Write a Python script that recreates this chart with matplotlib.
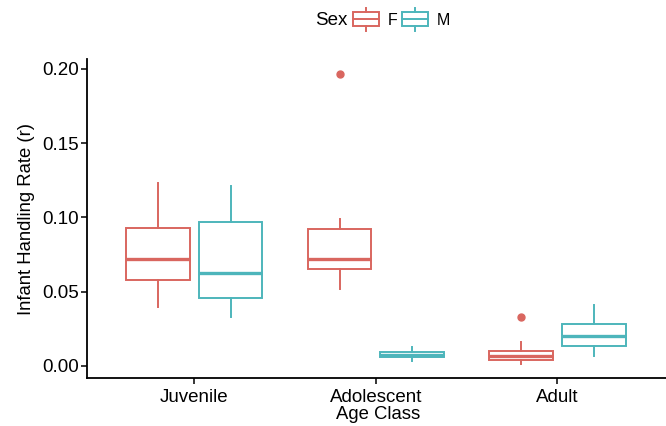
import matplotlib
matplotlib.use("Agg")
import matplotlib.pyplot as plt
from matplotlib.legend_handler import HandlerBase
from matplotlib.patches import Rectangle
from matplotlib.lines import Line2D

plt.rcParams['font.family'] = ['Liberation Sans', 'DejaVu Sans']

# data (box stats per age class and sex)
age_classes = ["Juvenile", "Adolescent", "Adult"]
sexes = ["F", "M"]
colors = {"F": "#D9665F", "M": "#4DB5BB"}

whislo = {"F": [0.0395, 0.0521, 0.0011], "M": [0.0332, 0.0034, 0.0067]}
q1 = {"F": [0.0579, 0.0653, 0.0040], "M": [0.0458, 0.0058, 0.0135]}
med = {"F": [0.0721, 0.0718, 0.0070], "M": [0.0629, 0.0076, 0.0200]}
q3 = {"F": [0.0932, 0.0923, 0.0099], "M": [0.0967, 0.0092, 0.0281]}
whishi = {"F": [0.1230, 0.0988, 0.0162], "M": [0.1212, 0.0128, 0.0413]}
fliers = {"F": [[], [0.1968], [0.0328]], "M": [[], [], []]}

fig = plt.figure(figsize=(6.66, 4.26), dpi=100)
ax = fig.add_axes([0.131, 0.112, 0.875, 0.749])

offsets = {"F": -0.2, "M": 0.2}
for s in sexes:
    stats = []
    for i in range(len(age_classes)):
        stats.append(dict(whislo=whislo[s][i], q1=q1[s][i], med=med[s][i],
                          q3=q3[s][i], whishi=whishi[s][i], fliers=fliers[s][i]))
    pos = [i + 1 + offsets[s] for i in range(len(age_classes))]
    c = colors[s]
    ax.bxp(stats, positions=pos, widths=0.35, showcaps=False, patch_artist=True,
           boxprops=dict(facecolor="white", edgecolor=c, linewidth=1.4),
           medianprops=dict(color=c, linewidth=2.4, solid_capstyle="butt"),
           whiskerprops=dict(color=c, linewidth=1.4),
           flierprops=dict(marker="o", markerfacecolor=c, markeredgecolor=c, markersize=5))

ax.set_xlim(0.41, 3.62)
ax.set_ylim(-0.0083, 0.2065)
ax.set_xticks([1, 2, 3])
ax.set_xticklabels(age_classes)
ax.set_yticks([0.0, 0.05, 0.10, 0.15, 0.20])
ax.set_yticklabels(["0.00", "0.05", "0.10", "0.15", "0.20"])
ax.tick_params(labelsize=13.5, colors="black", length=4, width=1.1, direction="out")
ax.tick_params(axis="x", pad=4)
ax.tick_params(axis="y", pad=2)
for side in ["top", "right"]:
    ax.spines[side].set_visible(False)
for side in ["left", "bottom"]:
    ax.spines[side].set_linewidth(1.3)
ax.set_xlabel("Age Class", fontsize=13.3, labelpad=0)
ax.set_ylabel("Infant Handling Rate (r)", fontsize=13.3, labelpad=5)


class BoxHandler(HandlerBase):
    def create_artists(self, legend, orig, xd, yd, width, height, fontsize, trans):
        c = orig.get_color()
        h = height * 2.0
        y0 = yd + height / 2 - h / 2
        bw = width * 0.92
        x0 = xd + (width - bw) / 2
        arts = [
            Rectangle((x0, y0 + h * 0.19), bw, h * 0.62, facecolor="white", edgecolor=c, lw=1.4, transform=trans),
            Line2D([x0, x0 + bw], [y0 + h / 2] * 2, color=c, lw=1.4, transform=trans),
            Line2D([xd + width / 2] * 2, [y0, y0 + h * 0.19], color=c, lw=1.4, transform=trans),
            Line2D([xd + width / 2] * 2, [y0 + h * 0.81, y0 + h], color=c, lw=1.4, transform=trans),
        ]
        return arts


handles = [Line2D([], [], color=colors[s]) for s in sexes]
fig.text(0.473, 0.952, "Sex", fontsize=13.5, ha="left", va="center")
fig.legend(handles, sexes, handler_map={Line2D: BoxHandler()}, loc="center left",
           bbox_to_anchor=(0.529, 0.952), ncol=2, frameon=False, fontsize=11.5,
           handlelength=1.75, handletextpad=0.45, columnspacing=0.25, borderpad=0,
           borderaxespad=0)

fig.savefig("out.png", dpi=100)
